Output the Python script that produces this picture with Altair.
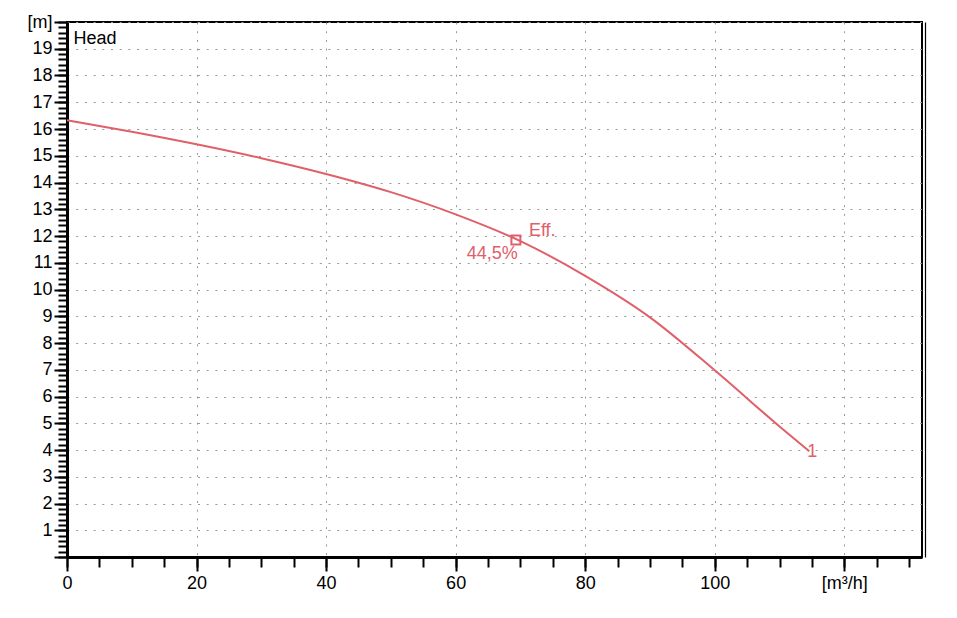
import altair as alt
import pandas as pd

# ---- data ----
flow = [0, 10, 20, 30, 40, 50, 60, 70, 80, 90, 100, 110, 114.6]
head = [16.33, 15.90, 15.43, 14.91, 14.32, 13.64, 12.81, 11.81, 10.51, 8.96, 6.98, 4.88, 3.95]

eff_flow = [69.3]
eff_head = [11.85]
eff_tag = ["Eff."]
eff_value = ["44,5%"]
curve_tag = ["1"]

x_major = [0, 20, 40, 60, 80, 100, 120]
x_minor = [5 * i for i in range(0, 27)]
y_major = list(range(0, 21))
y_minor = [round(0.2 * i, 1) for i in range(0, 101)]

RED = "#e0606a"
FONT = "Liberation Sans"

curve_df = pd.DataFrame({"flow": flow, "head": head})
eff_df = pd.DataFrame({"flow": eff_flow, "head": eff_head, "tag": eff_tag, "value": eff_value})
end_df = pd.DataFrame({"flow": [flow[-1]], "head": [head[-1]], "tag": curve_tag})

xs = alt.Scale(domain=[0, 132], nice=False, zero=False)
ys = alt.Scale(domain=[0, 20], nice=False, zero=False)

GRID_DASH = [2, 6.7]

x_major_axis = alt.Axis(
    orient="bottom", values=x_major, title=None,
    labelExpr="datum.value == 120 ? '[m³/h]' : datum.label",
    labelFont=FONT, labelFontSize=18, labelColor="#000",
    labelPadding=3, labelOverlap=False, labelFlush=False, labelBound=False,
    tickSize=14, tickWidth=2, tickColor="#000",
    domain=True, domainColor="#000", domainWidth=3,
    grid=True, gridColor="#999", gridDash=GRID_DASH, gridWidth=1,
)
y_major_axis = alt.Axis(
    orient="left", values=y_major,
    title="Head", titleAngle=0, titleAlign="left", titleBaseline="top",
    titleX=6, titleY=7, titleFont=FONT, titleFontSize=18, titleFontWeight="normal",
    titleColor="#000",
    labelExpr="datum.value == 20 ? '[m]' : (datum.value == 0 ? '' : datum.label)",
    labelFont=FONT, labelFontSize=18, labelColor="#000",
    labelPadding=2, labelOverlap=False, labelFlush=False, labelBound=False,
    tickSize=13, tickWidth=2, tickColor="#000",
    domain=True, domainColor="#000", domainWidth=3,
    grid=True, gridColor="#999", gridDash=GRID_DASH, gridWidth=1,
)
x_minor_axis = alt.Axis(
    orient="bottom", values=x_minor, title=None, labels=False,
    tickSize=10, tickWidth=2, tickColor="#000", domain=False, grid=False,
)
y_minor_axis = alt.Axis(
    orient="left", values=y_minor, title=None, labels=False,
    tickSize=9, tickWidth=2, tickColor="#000", domain=False, grid=False,
)
right_axis = alt.Axis(
    orient="right", offset=3, title=None, labels=False, ticks=False, grid=False,
    domain=True, domainColor="#000", domainWidth=1.2,
)

minor = alt.Chart(curve_df).mark_line(opacity=0).encode(
    x=alt.X("flow:Q", scale=xs, axis=x_minor_axis),
    y=alt.Y("head:Q", scale=ys, axis=y_minor_axis),
)

curve = alt.Chart(curve_df).mark_line(color=RED, strokeWidth=2, interpolate="monotone").encode(
    x=alt.X("flow:Q", scale=xs, axis=x_major_axis),
    y=alt.Y("head:Q", scale=ys, axis=y_major_axis),
)

marker = alt.Chart(eff_df).mark_point(
    shape="square", filled=False, size=80, strokeWidth=2, color=RED, opacity=1
).encode(
    x=alt.X("flow:Q", scale=xs, axis=None),
    y=alt.Y("head:Q", scale=ys, axis=right_axis),
)

eff_text = alt.Chart(eff_df).mark_text(
    align="left", baseline="alphabetic", dx=13, dy=-4,
    font=FONT, fontSize=18, color=RED,
).encode(
    x=alt.X("flow:Q", scale=xs, axis=None),
    y=alt.Y("head:Q", scale=ys, axis=None),
    text="tag:N",
)

eff_val_text = alt.Chart(eff_df).mark_text(
    align="right", baseline="alphabetic", dx=2, dy=19,
    font=FONT, fontSize=18, color=RED,
).encode(
    x=alt.X("flow:Q", scale=xs, axis=None),
    y=alt.Y("head:Q", scale=ys, axis=None),
    text="value:N",
)

end_text = alt.Chart(end_df).mark_text(
    align="left", baseline="alphabetic", dx=-2, dy=6,
    font=FONT, fontSize=18, color=RED,
).encode(
    x=alt.X("flow:Q", scale=xs, axis=None),
    y=alt.Y("head:Q", scale=ys, axis=None),
    text="tag:N",
)

chart = (
    alt.layer(minor, curve, marker, eff_text, eff_val_text, end_text)
    .resolve_axis(x="independent", y="independent")
    .properties(
        width=855, height=535,
        autosize=alt.AutoSizeParams(type="none"),
        padding={"left": 59, "top": 14, "right": 27, "bottom": 45},
        background="white",
    )
    .configure_view(stroke="#000", strokeWidth=2)
)

chart.save("out.html", embed_options={"renderer": "svg", "actions": False})
